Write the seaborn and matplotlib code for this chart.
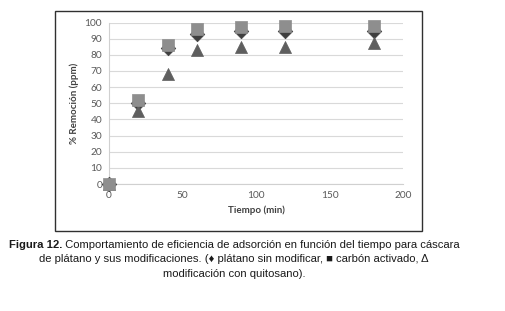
import matplotlib
matplotlib.use("Agg")
import matplotlib.pyplot as plt
import matplotlib.patches as mpatches
import seaborn as sns
import pandas as pd

tiempo = [0, 20, 40, 60, 90, 120, 180]
platano = [0, 50, 84, 93, 95, 95, 95]
carbon = [0, 52, 86, 96, 97, 98, 98]
quitosano = [0, 45, 68, 83, 85, 85, 87]
series = ["plátano sin modificar", "modificación con quitosano", "carbón activado"]
x_ticks = [0, 50, 100, 150, 200]
y_ticks = list(range(0, 101, 10))

df = pd.concat([
    pd.DataFrame({"Tiempo": tiempo, "Remocion": platano, "serie": series[0]}),
    pd.DataFrame({"Tiempo": tiempo, "Remocion": quitosano, "serie": series[1]}),
    pd.DataFrame({"Tiempo": tiempo, "Remocion": carbon, "serie": series[2]}),
])

sns.set_theme(style="white")
plt.rcParams['font.family'] = ['Lato', 'DejaVu Sans']

fig = plt.figure(figsize=(5.05, 3.11), dpi=100)
W, H = 505, 311
ax = fig.add_axes([109 / W, 1 - 184 / H, 294 / W, (184 - 22.5) / H])

palette = {series[0]: "#3f3f3f", series[1]: "#5e5e5e", series[2]: "#8e8e8e"}
markers = {series[0]: "D", series[1]: "^", series[2]: "s"}
sizes = {series[0]: 55, series[1]: 75, series[2]: 70}
for s in series:
    sub = df[df["serie"] == s]
    sns.scatterplot(data=sub, x="Tiempo", y="Remocion", color=palette[s],
                    marker=markers[s], s=sizes[s], edgecolor=palette[s],
                    linewidth=0.5, ax=ax, legend=False, zorder=3, clip_on=False)

ax.set_xlim(0, 200)
ax.set_ylim(0, 100)
ax.set_xticks(x_ticks)
ax.set_yticks(y_ticks)
ax.grid(axis="y", color="#d9d9d9", lw=0.8)
ax.grid(axis="x", visible=False)
for sp in ["top", "right"]:
    ax.spines[sp].set_visible(False)
for sp in ["left", "bottom"]:
    ax.spines[sp].set_color("#d0d0d0")
    ax.spines[sp].set_linewidth(0.8)
ax.tick_params(axis="both", labelsize=7.3, labelcolor="#595959", length=0, pad=5)
ax.set_xlabel("Tiempo (min)", fontsize=7, fontweight="bold", color="#404040", labelpad=4)
ax.set_ylabel("% Remoción (ppm)", fontsize=7, fontweight="bold", color="#404040", labelpad=4)

# outer frame
fig.patches.append(mpatches.Rectangle((55 / W, 1 - 231 / H), (422 - 55) / W, (231 - 11) / H,
                                      transform=fig.transFigure, fill=False,
                                      edgecolor="#303030", lw=1.0))

cap_font = ['Liberation Sans', 'DejaVu Sans']
fs = 8.1
cx = 234 / W
t1 = fig.text(0, 1 - 248 / H, "Figura 12.", fontsize=fs, fontweight="bold",
              family=cap_font, color="#1a1a1a", va="baseline")
t2 = fig.text(0, 1 - 248 / H,
              " Comportamiento de eficiencia de adsorción en función del tiempo para cáscara",
              fontsize=fs, family=cap_font, color="#1a1a1a", va="baseline")
fig.canvas.draw()
r = fig.canvas.get_renderer()
w1 = t1.get_window_extent(r).width / W
w2 = t2.get_window_extent(r).width / W
x0 = cx - (w1 + w2) / 2
t1.set_x(x0)
t2.set_x(x0 + w1)
fig.text(cx, 1 - 262 / H,
         "de plátano y sus modificaciones. (♦ plátano sin modificar, ■ carbón activado, Δ",
         fontsize=fs, family=cap_font, color="#1a1a1a", ha="center", va="baseline")
fig.text(cx, 1 - 277 / H, "modificación con quitosano).",
         fontsize=fs, family=cap_font, color="#1a1a1a", ha="center", va="baseline")

fig.savefig("out.png", dpi=100)
